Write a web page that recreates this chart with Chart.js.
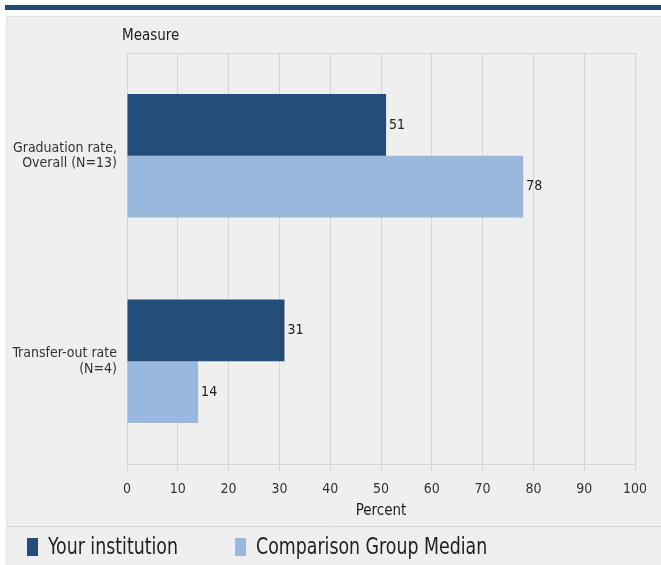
<!DOCTYPE html>
<html>
<head>
<meta charset="utf-8">
<script src="https://cdn.jsdelivr.net/npm/chart.js@4.4.0/dist/chart.umd.min.js"></script>
<style>
  body { margin: 0; background: #fff; width: 661px; height: 565px; overflow: hidden; position: relative; }
  #topbar { position: absolute; left: 5px; top: 5px; width: 656px; height: 5px; background: #24486f; }
  #panel { position: absolute; left: 6px; top: 16px; width: 655px; height: 549px; background: #efefef; border-top: 1px solid #e2e2e2; border-left: 1px solid #e2e2e2; box-sizing: border-box; }
  #chart { position: absolute; left: 0; top: 0; }
</style>
</head>
<body>
<div id="topbar"></div>
<div id="panel"><canvas id="chart" width="655" height="549"></canvas></div>
<script>
"use strict";

const FONT = "'Liberation Sans Narrow', 'DejaVu Sans Condensed', 'Liberation Sans', Arial, sans-serif";

const measures = [["Graduation rate,", "Overall (N=13)"], ["Transfer-out rate", "(N=4)"]];
const yourInstitution = [51, 31];
const comparisonMedian = [78, 14];
const xTicks = [0, 10, 20, 30, 40, 50, 60, 70, 80, 90, 100];

// frame, value labels, "Measure", separator and the legend row
const extras = {
  id: "extras",
  beforeDatasetsDraw(chart) {
    const a = chart.chartArea;
    const ctx = chart.ctx;
    ctx.save();
    ctx.strokeStyle = "#d6d6d6";
    ctx.lineWidth = 1;
    ctx.strokeRect(Math.round(a.left) + 0.5, Math.round(a.top) + 0.5, Math.round(a.right - a.left), Math.round(a.bottom - a.top));
    ctx.restore();
  },
  afterDatasetsDraw(chart) {
    const ctx = chart.ctx;
    const a = chart.chartArea;
    ctx.save();
    ctx.font = "14px " + FONT;
    ctx.fillStyle = "#222";
    ctx.textBaseline = "middle";
    chart.data.datasets.forEach(function (ds, i) {
      chart.getDatasetMeta(i).data.forEach(function (bar, j) {
        ctx.fillText(ds.data[j], bar.x + 3, bar.y);
      });
    });
    ctx.font = "15px " + FONT;
    ctx.fillText("Measure", a.left - 5, 19);

    // separator line
    const sepY = chart.scales.x.bottom + 2;
    ctx.strokeStyle = "#d3d3d3";
    ctx.beginPath();
    ctx.moveTo(0, Math.round(sepY) + 0.5);
    ctx.lineTo(chart.width, Math.round(sepY) + 0.5);
    ctx.stroke();

    // legend
    const midY = sepY + 21;
    let x = 20;
    ctx.font = "23px " + FONT;
    chart.data.datasets.forEach(function (ds) {
      ctx.fillStyle = ds.backgroundColor;
      ctx.fillRect(x, midY - 9, 11, 18);
      const w = ctx.measureText(ds.label).width;
      const sx = 0.84;
      ctx.save();
      ctx.translate(x + 21, midY + 1);
      ctx.scale(sx, 1);
      ctx.fillStyle = "#222";
      ctx.fillText(ds.label, 0, 0);
      ctx.restore();
      x += 21 + w * sx + 57;
    });
    ctx.restore();
  }
};

const ctx = document.getElementById("chart").getContext("2d");
new Chart(ctx, {
  type: "bar",
  data: {
    labels: measures,
    datasets: [{
      label: "Your institution",
      data: yourInstitution,
      backgroundColor: "#244d7a",
      barPercentage: 1,
      categoryPercentage: 0.6
    }, {
      label: "Comparison Group Median",
      data: comparisonMedian,
      backgroundColor: "#98b8dd",
      barPercentage: 1,
      categoryPercentage: 0.6
    }]
  },
  options: {
    indexAxis: "y",
    responsive: false,
    animation: false,
    layout: { padding: { top: 36, right: 27, left: 0, bottom: 42 } },
    scales: {
      x: {
        min: 0,
        max: 100,
        afterBuildTicks: function (scale) { scale.ticks = xTicks.map(v => ({ value: v })); },
        afterFit: function (scale) { scale.height = 60; },
        grid: { color: "#d6d6d6", tickLength: 7 },
        border: { display: false },
        ticks: { color: "#333", font: { family: FONT, size: 14 }, padding: 10 },
        title: { display: true, text: "Percent", color: "#222", font: { family: FONT, size: 15 }, padding: { top: 0, bottom: 4 } }
      },
      y: {
        afterFit: function (scale) { scale.width = 120; },
        grid: { display: false },
        border: { display: false },
        ticks: { color: "#333", font: { family: FONT, size: 14, lineHeight: 1.1 }, padding: 2 }
      }
    },
    plugins: {
      tooltip: { enabled: false },
      legend: { display: false }
    }
  },
  plugins: [extras]
});
</script>
</body>
</html>
